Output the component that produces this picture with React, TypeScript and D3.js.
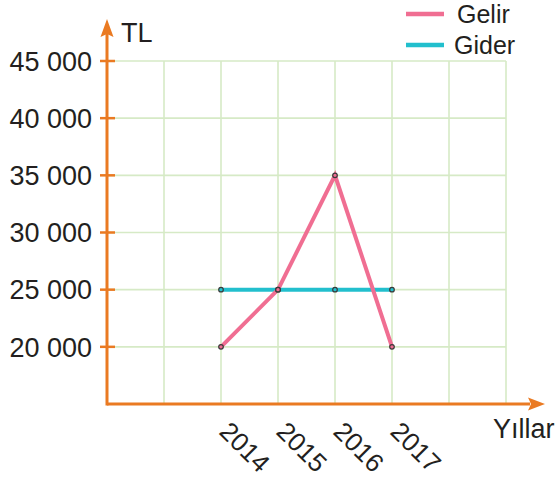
import * as d3 from 'd3';
import React, { useEffect, useRef } from 'react';

// chart values
const years = [2014, 2015, 2016, 2017];
const gelir = [20000, 25000, 35000, 20000];
const gider = [25000, 25000, 25000, 25000];
const yTicks = [20000, 25000, 30000, 35000, 40000, 45000];
const gridYears = [2013, 2014, 2015, 2016, 2017, 2018, 2019];
const seriesNames = ['Gelir', 'Gider'];

const App = () => {
    const ref = useRef<SVGSVGElement>(null);
    const width = 555;
    const height = 477;
    const axisColor = '#ea7a22';
    const gridColor = '#d6eac6';
    const colors = ['#f06e92', '#22bfcd'];
    const font = 'Liberation Sans, Arial, sans-serif';

    useEffect(() => {
        const svg = d3.select(ref.current);
        svg.selectAll('*').remove();

        const x = d3.scaleLinear().domain([2012, 2019]).range([107, 506]);
        const y = d3.scaleLinear().domain([15000, 45000]).range([404, 61]);

        // grid
        const grid = svg.append('g').attr('stroke', gridColor).attr('stroke-width', 1.6);
        grid.selectAll('line.h')
            .data(yTicks)
            .enter().append('line')
            .attr('x1', x(2012)).attr('x2', x(2019))
            .attr('y1', d => y(d)).attr('y2', d => y(d));
        grid.selectAll('line.v')
            .data(gridYears)
            .enter().append('line')
            .attr('x1', d => x(d)).attr('x2', d => x(d))
            .attr('y1', y(45000)).attr('y2', y(15000));

        // axes
        const ax = svg.append('g');
        ax.append('line')
            .attr('x1', x(2012)).attr('x2', 530)
            .attr('y1', y(15000)).attr('y2', y(15000))
            .attr('stroke', axisColor).attr('stroke-width', 3);
        ax.append('path')
            .attr('d', `M545,${y(15000)} L528,${y(15000) - 6.5} L531,${y(15000)} L528,${y(15000) + 6.5} Z`)
            .attr('fill', axisColor);
        ax.append('line')
            .attr('x1', x(2012)).attr('x2', x(2012))
            .attr('y1', y(15000) + 1.5).attr('y2', 34)
            .attr('stroke', axisColor).attr('stroke-width', 3);
        ax.append('path')
            .attr('d', `M${x(2012)},19 L${x(2012) - 6.5},37 L${x(2012)},34 L${x(2012) + 6.5},37 Z`)
            .attr('fill', axisColor);
        ax.selectAll('line.tick')
            .data(yTicks)
            .enter().append('line')
            .attr('x1', 100).attr('x2', 115)
            .attr('y1', d => y(d)).attr('y2', d => y(d))
            .attr('stroke', axisColor).attr('stroke-width', 2.5);

        // y labels
        svg.selectAll('text.ylab')
            .data(yTicks)
            .enter().append('text')
            .attr('x', 92)
            .attr('y', d => y(d) + 9.8)
            .attr('text-anchor', 'end')
            .attr('font-family', font)
            .attr('font-size', 27)
            .attr('fill', '#231f20')
            .text(d => d3.format(',')(d).replace(',', ' '));

        // x labels
        svg.selectAll('text.xlab')
            .data(years)
            .enter().append('text')
            .attr('transform', d => `translate(${x(d) - 3},433) rotate(45)`)
            .attr('font-family', font)
            .attr('font-size', 26)
            .attr('fill', '#231f20')
            .text(d => d);

        svg.append('text')
            .attr('x', 121).attr('y', 42)
            .attr('font-family', font).attr('font-size', 27).attr('fill', '#231f20')
            .text('TL');
        svg.append('text')
            .attr('x', 493).attr('y', 438)
            .attr('font-family', font).attr('font-size', 27).attr('fill', '#231f20')
            .text('Yıllar');

        // lines
        const line = d3.line<number>()
            .x((d, i) => x(years[i]))
            .y(d => y(d));
        const series = [gider, gelir];
        const seriesColors = [colors[1], colors[0]];
        series.forEach((s, k) => {
            svg.append('path')
                .datum(s)
                .attr('d', line)
                .attr('fill', 'none')
                .attr('stroke', seriesColors[k])
                .attr('stroke-width', 4);
        });
        series.forEach((s, k) => {
            svg.append('g').selectAll('circle')
                .data(s)
                .enter().append('circle')
                .attr('cx', (d, i) => x(years[i]))
                .attr('cy', d => y(d))
                .attr('r', 2.3)
                .attr('fill', seriesColors[k])
                .attr('stroke', '#3a3a3a')
                .attr('stroke-width', 1.2);
        });

        // legend
        const legend = svg.append('g');
        seriesNames.forEach((name, i) => {
            const ly = 14 + i * 31;
            legend.append('line')
                .attr('x1', 406).attr('x2', 444)
                .attr('y1', ly).attr('y2', ly)
                .attr('stroke', colors[i]).attr('stroke-width', 4.5);
            legend.append('text')
                .attr('x', i === 0 ? 457 : 454).attr('y', ly + 9)
                .attr('font-family', font).attr('font-size', 25).attr('fill', '#231f20')
                .text(name);
        });
    }, []);

    return (
        <svg ref={ref} width={width} height={height}
            style={{ position: 'absolute', left: 0, top: 0, background: '#fff' }}>
        </svg>
    );
};

export default App;
